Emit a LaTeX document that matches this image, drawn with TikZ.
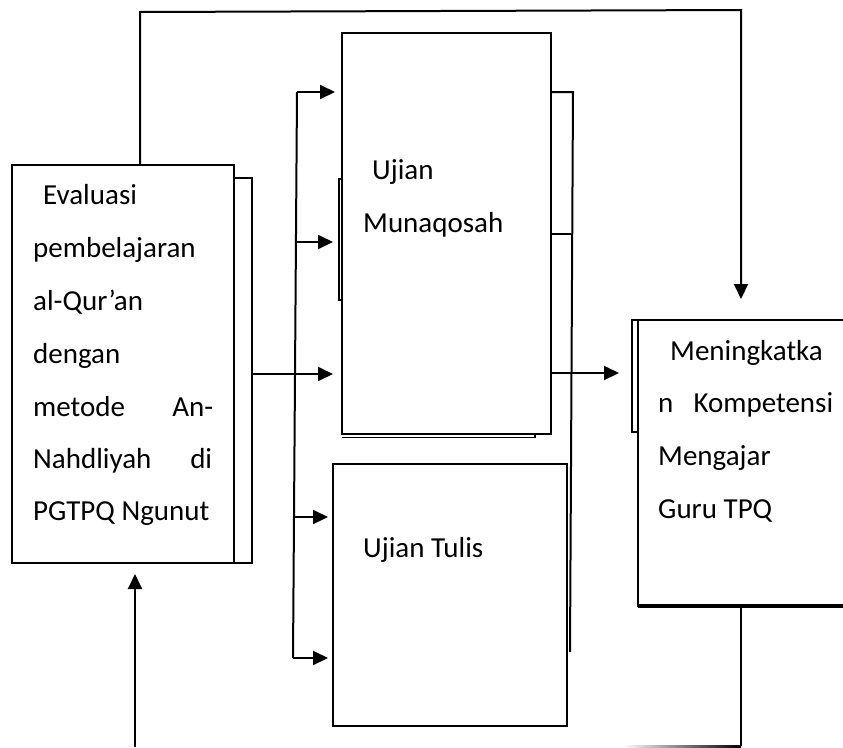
\documentclass[tikz,border=0pt]{standalone}
\usepackage{fontspec}
\setmainfont{Carlito}
\usetikzlibrary{arrows.meta}
\begin{document}
\begin{tikzpicture}[x=1pt,y=-1pt,
  box/.style={draw, line width=2pt, inner sep=0pt, outer sep=0pt, fill=white},
  link/.style={line width=2pt},
  arr/.style={line width=2pt, -{Triangle[length=15pt,width=14pt]}},
  ghost/.style={line width=1.3pt},
  lbl/.style={anchor=base west, inner sep=0pt, font=\fontsize{29}{35}\selectfont}]
\useasboundingbox (0,0) rectangle (843,747);
\fill[white] (0,0) rectangle (843,747);

% shadow edges behind the boxes
\draw[link] (234,178) -- (252,178) -- (252,563) -- (234,563);
\draw[ghost] (339,179) rectangle (342,300);
\draw[ghost] (342,437.5) -- (535,437.5) -- (535,434);
\draw[ghost] (632,320) rectangle (638,432);

% boxes
\node[box, minimum width=222pt, minimum height=398pt] (eval) at (123,364) {};
\node[box, minimum width=209pt, minimum height=401pt] (mun) at (446.5,233.5) {};
\node[box, minimum width=234pt, minimum height=262pt] (tulis) at (450,595) {};
\node[box, minimum width=212pt, minimum height=286pt] (goal) at (744,463) {};
\draw[line width=4pt] (goal.south west) -- (goal.south east);

% texts
\node[lbl] (e1) at (43,204) {Evaluasi};
\node[lbl] (e2) at (33,257) {pembelajaran};
\node[lbl] (e3) at (33,310) {al-Qur’an};
\node[lbl] (e4) at (33,363) {dengan};
\node[lbl] (e5) at (33,416) {\hbox to 180pt{metode\hfill An-}};
\node[lbl] (e6) at (33,468) {\hbox to 179pt{Nahdliyah\hfill di}};
\node[lbl] (e7) at (33,520) {PGTPQ Ngunut};

\node[lbl] (m1) at (372,179) {Ujian};
\node[lbl] (m2) at (363,232) {Munaqosah};

\node[lbl] (u1) at (363,557) {Ujian Tulis};

\node[lbl] (g1) at (670,360) {Meningkatka};
\node[lbl] (g2) at (658,412) {\hbox to 175pt{n\hfill Kompetensi}};
\node[lbl] (g3) at (658,465) {Mengajar};
\node[lbl] (g4) at (658,518) {Guru TPQ};

% connector points
\coordinate (tl) at (140,12);
\coordinate (tr) at (741,10);
\coordinate (eo) at (252,374);
\coordinate (ttop) at (297,92);
\coordinate (tmid) at (295.5,242);
\coordinate (tlow) at (294.3,517);
\coordinate (tbot) at (293,658);
\coordinate (r1) at (573,92);
\coordinate (rt) at (570.5,234);
\coordinate (r2) at (570,652);
\coordinate (mo) at (551,373);
\coordinate (br) at (741,746);
\coordinate (bl) at (135,747);

% feedback loop over the top
\draw[arr, shorten >=21pt] (eval.north -| tl) -- (tl) -- (tr) -- (tr |- goal.north);

% evaluation to the exams
\draw[arr, shorten >=9pt] (eo) -- (mun.west |- eo);
\draw[link] (ttop) -- (tbot);
\draw[arr, shorten >=7pt] (ttop) -- (mun.west |- ttop);
\draw[arr, shorten >=9pt] (tmid) -- (mun.west |- tmid);
\draw[arr, shorten >=5pt] (tlow) -- (tulis.west |- tlow);
\draw[arr, shorten >=5pt] (tbot) -- (tulis.west |- tbot);

% exams to the outcome
\draw[link] (mun.east |- r1) -- (r1) -- (r2);
\draw[link] (mun.east |- rt) -- (rt);
\draw[arr, shorten >=19pt] (mun.east |- mo) -- (goal.west |- mo);

% bottom return line
\draw[link] (goal.south -| br) -- (br);
\shade[left color=white, right color=black] (623,745) rectangle (741,747);
\draw[arr, shorten >=11pt] (bl) -- (bl |- eval.south);
\end{tikzpicture}
\end{document}
